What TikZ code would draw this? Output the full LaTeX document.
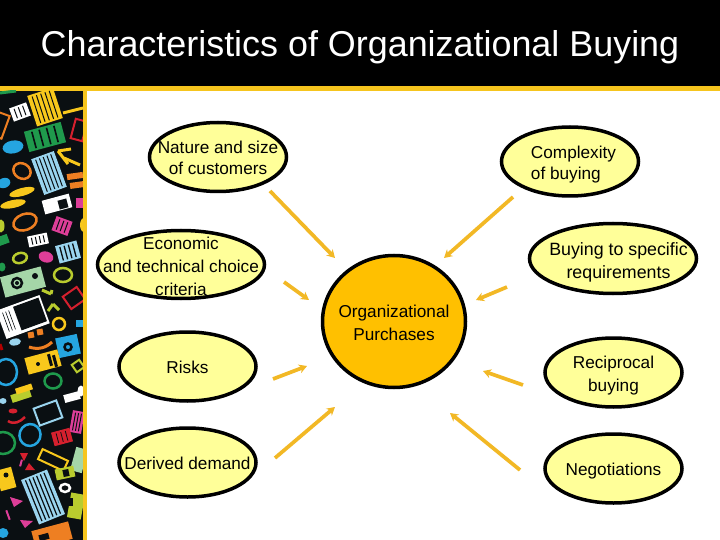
\documentclass[tikz,border=0pt]{standalone}
\usepackage{fontspec}
\setmainfont{Liberation Sans}
\usetikzlibrary{shapes.geometric,arrows.meta}
\definecolor{gold}{HTML}{F6C51E}
\definecolor{arrowgold}{HTML}{F2B825}
\definecolor{bubble}{HTML}{FFFF99}
\definecolor{hub}{HTML}{FFC000}
\definecolor{stripbg}{HTML}{0A0F12}
\definecolor{icyel}{HTML}{F8C81C}
\definecolor{icgrn}{HTML}{1F9A4C}
\definecolor{icblu}{HTML}{25A5E0}
\definecolor{iclbl}{HTML}{9AD4EE}
\definecolor{icorg}{HTML}{EE7F22}
\definecolor{icmag}{HTML}{DD3E98}
\definecolor{icred}{HTML}{D5202E}
\definecolor{iclim}{HTML}{B9CC2E}
\definecolor{icpal}{HTML}{A5D6A8}
\newcommand{\icr}[6]{\fill[#6,shift={(#1,#2)},rotate=#5] (-#3/2,-#4/2) rectangle (#3/2,#4/2);}
\newcommand{\ico}[6]{\draw[#6,line width=2pt,shift={(#1,#2)},rotate=#5] (-#3/2,-#4/2) rectangle (#3/2,#4/2);}
\newcommand{\ice}[6]{\fill[#6,shift={(#1,#2)},rotate=#5] (0,0) ellipse ({#3/2} and {#4/2});}
\newcommand{\icc}[6]{\draw[#6,line width=2.5pt,shift={(#1,#2)},rotate=#5] (0,0) ellipse ({#3/2} and {#4/2});}
\newcommand{\icl}[5]{\draw[#5,line width=3pt] (#1,#2) -- (#3,#4);}
\newcommand{\icg}[8]{% rect with dark grid stripes
  \begin{scope}[shift={(#1,#2)},rotate=#5]
  \fill[#6] (-#3/2,-#4/2) rectangle (#3/2,#4/2);
  \foreach \k in {1,...,#7}{\draw[stripbg,line width=#8] ({-#3/2+\k*#3/(#7+1)},{-#4/2+2}) -- ({-#3/2+\k*#3/(#7+1)},{#4/2-2});}
  \end{scope}}
\tikzset{
  bub/.style={draw=black,line width=3.5pt,ellipse,fill=bubble,inner sep=0pt,minimum width=137pt,minimum height=69pt},
  lab/.style={align=center,font=\fontsize{17.2}{21.5}\selectfont,inner sep=0pt,text=black},
  labwide/.style={lab,font=\fontsize{17.2}{23}\selectfont},
  flow/.style={draw=arrowgold,line width=3.7pt,-{Stealth[length=8pt,width=9pt]}}
}
\begin{document}
\begin{tikzpicture}[x=1pt,y=-1pt]
\useasboundingbox (0,0) rectangle (720,540);
\fill[white] (0,0) rectangle (720,540);
\fill[black] (0,0) rectangle (720,86);
\fill[gold] (0,86) rectangle (720,91);
% patterned strip
\begin{scope}
\clip (0,91) rectangle (83,540);
\fill[stripbg] (0,91) rectangle (83,540);
\icg{45}{107}{27}{32}{18}{icyel}{5}{1pt}
\icl{63}{113}{83}{108}{icyel}
\icg{20}{112}{18}{14}{20}{white}{3}{1pt}
\icl{0}{93}{16}{91}{icgrn}
\icg{45}{137}{38}{21}{15}{icgrn}{4}{1.6pt}
\ice{13}{147}{21}{13}{10}{icblu}
\ico{79}{130}{12}{20}{-15}{icred}
\ico{-1}{125}{14}{24}{-20}{icorg}
\icc{22}{171}{18}{15}{-30}{icorg}
\icg{49}{173}{24}{38}{20}{iclbl}{5}{1pt}
\icl{58}{151}{71}{149}{icyel}
\icl{58}{151}{68}{164}{icyel}
\icl{64}{158}{80}{165}{icyel}
\icr{75}{176}{16}{6}{8}{icorg}
\icr{77}{185}{14}{6}{8}{icorg}
\ice{4}{183}{13}{10}{20}{icblu}
\ice{22}{192}{26}{8}{15}{icyel}
\ice{13}{204}{26}{8}{12}{icyel}
\icr{57}{204}{28}{14}{15}{white}
\icr{63}{204}{9}{9}{15}{stripbg}
\icr{80}{203}{8}{10}{0}{icmag}
\icc{25}{222}{24}{16}{20}{icorg}
\icg{62}{226}{17}{15}{-20}{icmag}{3}{1pt}
\ice{84}{225}{8}{14}{0}{icyel}
\ice{1}{226}{7}{13}{0}{iclim}
\icg{38}{240}{20}{11}{12}{white}{4}{1pt}
\icr{3}{240}{11}{9}{20}{icgrn}
\icg{68}{252}{22}{18}{15}{iclbl}{4}{1.3pt}
\icc{20}{258}{14}{10}{15}{iclim}
\ice{46}{257}{15}{11}{-15}{icmag}
\ice{2}{267}{7}{9}{0}{icgrn}
\icr{23}{282}{42}{21}{15}{icpal}
\icc{17}{283}{10}{10}{0}{stripbg}
\ice{17}{283}{4}{4}{0}{stripbg}
\ice{35}{276}{6}{6}{0}{stripbg}
\icc{63}{275}{18}{14}{0}{iclim}
\icl{42}{290}{51}{294}{iclim}
\icl{51}{294}{52}{290}{iclim}
\icl{48}{311}{53}{304}{iclim}
\icl{53}{304}{59}{310}{iclim}
\ico{74}{298}{17}{15}{35}{icred}
\icr{23}{317}{46}{30}{20}{white}
\icr{30}{314}{27}{25}{20}{stripbg}
\icg{9}{321}{13}{24}{20}{white}{3}{0.6pt}
\icc{59}{324}{12}{12}{20}{icyel}
\icr{79}{323}{7}{7}{0}{icblu}
\icr{31}{335}{6}{6}{10}{icorg}
\icr{40}{332}{6}{6}{10}{icorg}
\draw[icorg,line width=3pt] (29,347) .. controls (38,350) and (46,348) .. (52,342);
\ice{15}{342}{12}{7}{10}{iclbl}
\draw[red!70!black,line width=3pt] (0,344) -- (2,350);
\icr{68}{346}{22}{20}{12}{icblu}
\icc{68}{347}{7}{7}{0}{stripbg}
\icr{43}{362}{34}{17}{15}{icyel}
\ice{38}{364}{4}{4}{0}{stripbg}
\icr{50}{360}{3}{12}{15}{stripbg}
\icr{55}{361}{3}{12}{15}{stripbg}
\ico{78}{366}{9}{9}{35}{iclim}
\icc{6}{372}{22}{26}{0}{icblu}
\icc{53}{381}{17}{15}{0}{icgrn}
\icr{21}{396}{20}{8}{18}{iclim}
\icr{24}{389}{17}{6}{18}{icyel}
\icr{72}{397}{16}{8}{15}{white}
\ice{81}{391}{7}{11}{0}{white}
\ico{48}{413}{24}{18}{20}{iclbl}
\ice{13}{411}{9}{5}{0}{icred}
\draw[icred,line width=2.5pt] (8,421) .. controls (14,425) and (20,422) .. (25,417);
\ice{3}{401}{7}{6}{0}{iclbl}
\icg{77}{422}{12}{22}{-10}{icmag}{3}{1pt}
\icc{30}{435}{21}{22}{-20}{icblu}
\icg{62}{437}{19}{14}{15}{icred}{3}{0.8pt}
\icc{3}{443}{24}{22}{0}{icgrn}
\ico{53}{460}{28}{11}{-25}{icyel}
\icr{79}{460}{12}{24}{-15}{icpal}
\fill[icred] (20,453) -- (28,453) -- (24,461) -- cycle;
\fill[icred] (25,470) -- (35,470) -- (29,463) -- cycle;
\icr{21}{463}{2}{7}{-15}{icmag}
\icr{65}{473}{19}{11}{12}{iclim}
\icr{66}{473}{6}{7}{12}{stripbg}
\icr{6}{479}{16}{21}{15}{icyel}
\ice{6}{475}{5}{5}{0}{stripbg}
\icg{43}{497}{28}{48}{22}{iclbl}{6}{1.2pt}
\icc{65}{488}{10}{8}{0}{white}
\icr{76}{506}{14}{25}{-10}{iclim}
\icr{70}{502}{5}{8}{0}{stripbg}
\fill[icmag] (10,497) -- (23,501) -- (14,507) -- cycle;
\fill[icmag] (20,520) -- (33,521) -- (25,528) -- cycle;
\icr{8}{515}{2}{10}{20}{icmag}
\icr{52}{535}{38}{18}{15}{icorg}
\icr{44}{537}{10}{6}{15}{stripbg}
\ice{3}{533}{11}{10}{0}{icblu}
\end{scope}
\fill[gold] (83,91) rectangle (87,540);
% title
\node[inner sep=0pt,font=\fontsize{35.9}{40}\selectfont,text=white] (title) at (360,47) {Characteristics of Organizational Buying};
% bubbles
\node[bub] (nature) at (218,157) {};
\node[bub] (complex) at (570,161.5) {};
\node[bub,minimum width=167pt,minimum height=68pt] (econ) at (181,264.5) {};
\node[bub,minimum width=167pt,minimum height=70pt] (specific) at (613,258.5) {};
\node[bub] (risks) at (187.5,366.5) {};
\node[bub] (derived) at (187.5,462.5) {};
\node[bub] (recip) at (613.5,372.5) {};
\node[bub] (nego) at (613.5,468.5) {};
\node[draw=black,line width=3.5pt,ellipse,fill=hub,inner sep=0pt,minimum width=143pt,minimum height=132pt] (org) at (394,321.5) {};
\node[lab] (naturet) at (218,158) {Nature and size\\of customers};
\node[lab,align=left] (complext) at (573.5,164.5) {Complexity\\of buying};
\node[labwide] (econt) at (181,266) {Economic\\and technical choice\\criteria};
\node[labwide,font=\fontsize{17.8}{23}\selectfont] (specifict) at (618.5,262.5) {Buying to specific\\requirements};
\node[lab] (riskst) at (187.5,367.5) {Risks};
\node[lab] (derivedt) at (187.5,463) {Derived demand};
\node[labwide] (recipt) at (613.5,376) {Reciprocal\\buying};
\node[lab] (negot) at (613.5,471.5) {Negotiations};
\node[labwide] (orgt) at (394,322.5) {Organizational\\Purchases};
% arrow ends
\coordinate (a1) at (270,191); \coordinate (b1) at (335,258);
\coordinate (a2) at (513,197); \coordinate (b2) at (444,258);
\coordinate (a3) at (284,282); \coordinate (b3) at (309,300);
\coordinate (a4) at (507,287); \coordinate (b4) at (476,300);
\coordinate (a5) at (273,379); \coordinate (b5) at (307,366);
\coordinate (a6) at (275,458); \coordinate (b6) at (335,407);
\coordinate (a7) at (523,385); \coordinate (b7) at (483,371);
\coordinate (a8) at (520,470); \coordinate (b8) at (450,413);
\foreach \i in {1,...,8}{\draw[flow] (a\i) -- (b\i);}
\end{tikzpicture}
\end{document}
